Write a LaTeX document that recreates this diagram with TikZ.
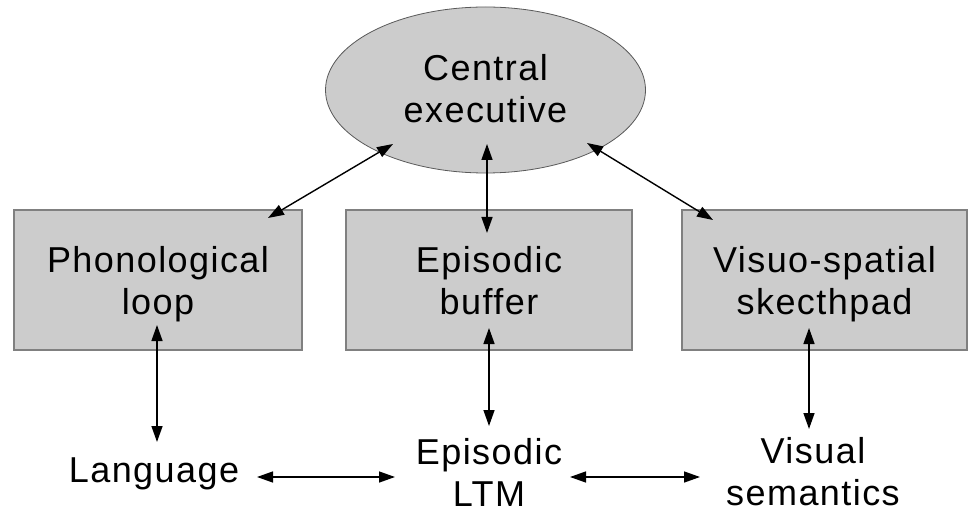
\documentclass[tikz,border=0pt]{standalone}
\usepackage{fontspec}
\setmainfont{Liberation Sans}[LetterSpace=4]
\usetikzlibrary{arrows.meta,shapes.geometric}
\definecolor{boxfill}{HTML}{CCCCCC}
\definecolor{boxline}{HTML}{808080}
\newcommand{\lowered}[2]{\raisebox{-#1}[\height][\depth]{\begin{tabular}{@{}c@{}}#2\end{tabular}}}
\begin{document}
\begin{tikzpicture}[x=1pt,y=-1pt,
  lbl/.style={font=\fontsize{36}{42}\selectfont, align=center, inner sep=0pt},
  compbox/.style={lbl, draw=boxline, line width=1.2pt, fill=boxfill, minimum width=286pt, minimum height=140pt},
  link/.style={line width=1.4pt, {Triangle[length=16pt,width=11pt]}-{Triangle[length=16pt,width=11pt]}}
]
\useasboundingbox (0,0) rectangle (968,510);
\node[lbl, ellipse, draw=black!65, line width=0.8pt, fill=boxfill, minimum width=320pt, minimum height=166pt] (ce) at (485.5,90) {\lowered{3pt}{Central\\executive}};
\node[compbox, minimum width=288pt] (phon) at (158,280) {\lowered{5pt}{Phonological\\loop}};
\node[compbox] (buf) at (489,280) {\lowered{5pt}{Episodic\\buffer}};
\node[compbox, minimum width=285pt] (vis) at (824.5,280) {\lowered{5pt}{Visuo-spatial\\skecthpad}};
\node[lbl] (lang) at (154,474) {Language};
\node[lbl] (ltm) at (489,472) {Episodic\\LTM};
\node[lbl] (vsem) at (813,472) {Visual\\semantics};
\coordinate (ceL) at (393,144);
\coordinate (ceM) at (487,144);
\coordinate (ceR) at (587,143);
\coordinate (phonT) at (268,218);
\coordinate (bufT) at (487,233);
\coordinate (visT) at (713,220);
\coordinate (phonB) at (157,325);
\coordinate (bufB) at (489,328);
\coordinate (visB) at (809,328);
\coordinate (langT) at (157,442);
\coordinate (ltmT) at (489,426);
\coordinate (vsemT) at (809,429);
\coordinate (langE) at (257,477);
\coordinate (ltmW) at (395,477);
\coordinate (ltmE) at (570,477);
\coordinate (vsemW) at (700,477);
\draw[link] (ceL) -- (phonT);
\draw[link] (ceM) -- (bufT);
\draw[link] (ceR) -- (visT);
\draw[link] (phonB) -- (langT);
\draw[link] (bufB) -- (ltmT);
\draw[link] (visB) -- (vsemT);
\draw[link] (langE) -- (ltmW);
\draw[link] (ltmE) -- (vsemW);
\end{tikzpicture}
\end{document}
